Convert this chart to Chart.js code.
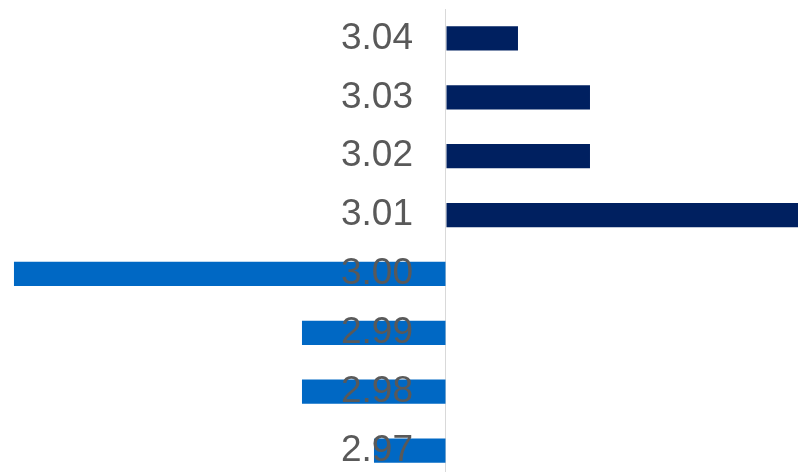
<!DOCTYPE html>
<html>
<head>
<meta charset="utf-8">
<script src="https://cdn.jsdelivr.net/npm/chart.js@4"></script>
<style>
  html, body { margin: 0; padding: 0; background: #fff; overflow: hidden; }
</style>
</head>
<body>
<canvas id="chart" width="798" height="480"></canvas>
<script>
// categories, top to bottom
const categories = ['3.04', '3.03', '3.02', '3.01', '3.00', '2.99', '2.98', '2.97'];
const values = [1, 2, 2, 5, -6, -2, -2, -1];

const xMin = -6.194;
const xMax = 4.889;

const colors = values.map(v => v >= 0 ? '#002060' : '#0068c4');

new Chart(document.getElementById('chart'), {
  type: 'bar',
  data: {
    labels: categories,
    datasets: [{
      data: values,
      backgroundColor: colors,
      borderWidth: 0,
      barPercentage: 0.41,
      categoryPercentage: 1
    }]
  },
  options: {
    indexAxis: 'y',
    responsive: false,
    animation: false,
    layout: { padding: { top: 9, left: 0, right: 0, bottom: 0 } },
    plugins: {
      legend: { display: false },
      tooltip: { enabled: false }
    },
    scales: {
      x: {
        min: xMin,
        max: xMax,
        ticks: { display: false },
        border: { display: false },
        grid: {
          drawTicks: false,
          lineWidth: 1,
          color: ctx => ctx.tick && ctx.tick.value === 0 ? '#d9d9d9' : 'rgba(0,0,0,0)'
        },
        afterBuildTicks: scale => {
          scale.ticks = [{ value: 0 }];
        },
        afterFit: scale => {
          scale.height = 0;
          scale.paddingLeft = scale.paddingRight = 0;
        }
      },
      y: {
        position: { x: -0.458 },
        border: { display: false },
        grid: { display: false, drawTicks: false },
        ticks: {
          z: 1,
          color: '#595959',
          padding: 0,
          font: { family: '"Liberation Sans", Arial, sans-serif', size: 37 }
        },
        afterFit: scale => {
          scale.width = 0;
          scale.paddingTop = scale.paddingBottom = 0;
        }
      }
    }
  }
});
</script>
</body>
</html>
